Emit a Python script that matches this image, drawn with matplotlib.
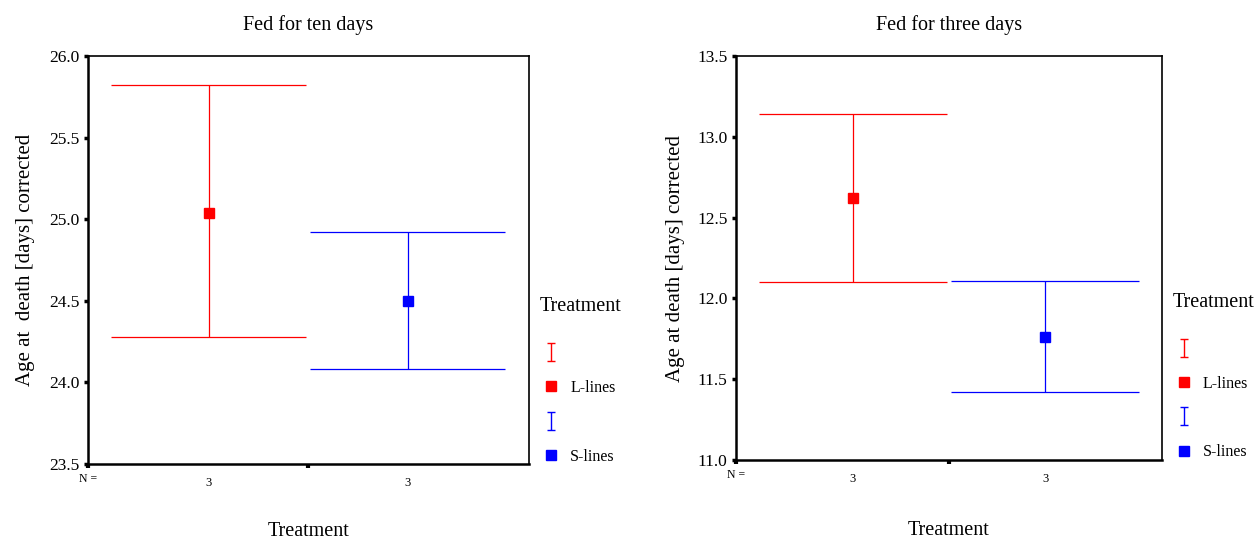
import numpy as np
import matplotlib
matplotlib.use('Agg')
import matplotlib.pyplot as plt
from matplotlib.path import Path
from matplotlib.lines import Line2D

plt.rcParams['font.family'] = ['Liberation Serif', 'DejaVu Serif']

# valeurs (moyenne et IC 95%)
groups = ['L-lines', 'S-lines']
colors = ['#ff0000', '#0000ff']
n_obs = [3, 3]

ten_mean = [25.04, 24.50]
ten_low = [24.28, 24.08]
ten_high = [25.82, 24.92]

three_mean = [12.62, 11.76]
three_low = [12.10, 11.42]
three_high = [13.14, 12.11]

# marqueur en forme de I pour la legende
ibeam = Path([(-0.4, 1), (0.4, 1), (0, 1), (0, -1), (-0.4, -1), (0.4, -1)],
             [Path.MOVETO, Path.LINETO, Path.MOVETO, Path.LINETO, Path.MOVETO, Path.LINETO])

fig = plt.figure(figsize=(12.57, 5.41), dpi=100)
ax1 = fig.add_axes([0.0700, 0.1423, 0.3508, 0.7542])
ax2 = fig.add_axes([0.5855, 0.1497, 0.3389, 0.7468])


def painel(ax, mean, low, high, titulo, ylab, ylim, leg_y, xlab_y):
    x = np.arange(1, len(groups) + 1)
    for i in range(len(groups)):
        ax.vlines(x[i], low[i], high[i], color=colors[i], lw=0.9)
        ax.hlines([low[i], high[i]], x[i] - 0.49, x[i] + 0.49, color=colors[i], lw=0.9)
        ax.plot(x[i], mean[i], 's', color=colors[i], ms=7)
    ax.set_xlim(0.392, 2.608)
    ax.set_ylim(*ylim)
    ax.set_yticks(np.arange(ylim[0], ylim[1] + 0.01, 0.5))
    ax.yaxis.set_major_formatter(matplotlib.ticker.FormatStrFormatter('%.1f'))
    ax.tick_params(axis='y', direction='out', length=3, width=2.5, pad=3, labelsize=12.5)
    ax.set_xticks(x)
    ax.set_xticklabels([str(v) for v in n_obs])
    ax.tick_params(axis='x', length=0, pad=9, labelsize=9)
    ax.set_xticks([0.392, 1.5], minor=True)
    ax.tick_params(axis='x', which='minor', direction='out', length=3, width=3)
    for s in ax.spines.values():
        s.set_linewidth(1.2)
    ax.spines['left'].set_linewidth(1.8)
    ax.spines['bottom'].set_linewidth(1.8)
    ax.text(0.0, -0.037, 'N =', transform=ax.transAxes, ha='center', va='center', fontsize=8.5)
    ax.set_title(titulo, fontsize=14.5, pad=19)
    ax.set_ylabel(ylab, fontsize=15)
    ax.yaxis.set_label_coords(-0.12, 0.5)
    ax.set_xlabel('Treatment', fontsize=14.5)
    ax.xaxis.set_label_coords(0.5, xlab_y)

    ax.text(1.025, leg_y, 'Treatment', transform=ax.transAxes, ha='left', va='center', fontsize=14.5)
    handles = []
    labels = []
    for i in range(len(groups)):
        handles.append(Line2D([], [], marker=ibeam, ls='None', color=colors[i],
                              ms=13, mew=1.0, mfc='none'))
        labels.append('')
        handles.append(Line2D([], [], marker='s', ls='None', color=colors[i], ms=6.5))
        labels.append(groups[i])
    ax.legend(handles, labels, loc='upper left', bbox_to_anchor=(1.032, leg_y - 0.097),
              frameon=False, fontsize=11.5, handlelength=1.0, handletextpad=0.7,
              labelspacing=1.15, borderpad=0, borderaxespad=0)


painel(ax1, ten_mean, ten_low, ten_high, 'Fed for ten days',
       'Age at  death [days] corrected', (23.5, 26.0), 0.387, -0.142)
painel(ax2, three_mean, three_low, three_high, 'Fed for three days',
       'Age at death [days] corrected', (11.0, 13.5), 0.391, -0.150)

plt.savefig('out.png', dpi=100)
